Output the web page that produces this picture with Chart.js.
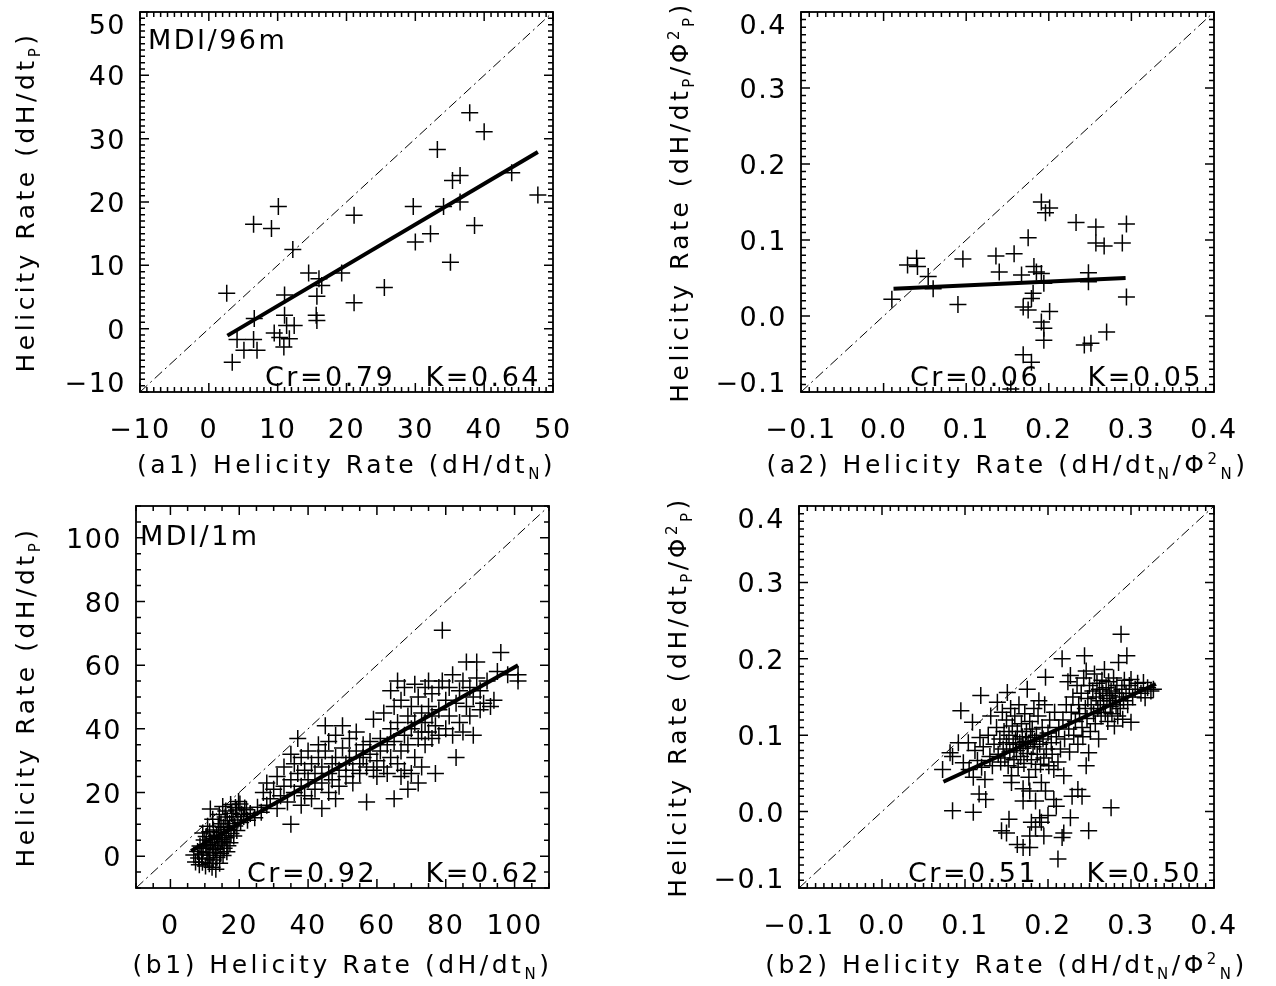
<!DOCTYPE html>
<html>
<head>
<meta charset="utf-8">
<title>Helicity rate comparison</title>
<script src="https://cdn.jsdelivr.net/npm/chart.js@4.4.1/dist/chart.umd.min.js"></script>
<style>
  html, body { margin: 0; padding: 0; background: #fff; }
  body { position: relative; width: 1276px; height: 986px; overflow: hidden; }
  canvas { position: absolute; }
</style>
</head>
<body>
<canvas id="a1"></canvas>
<canvas id="a2"></canvas>
<canvas id="b1"></canvas>
<canvas id="b2"></canvas>
<script>
// ---- data ----
const a1Points = [[2.6,5.6],[3.4,-5.3],[4.1,-1.7],[5.1,-3.4],[6.5,-1.7],[7.0,-3.4],[6.6,1.6],[6.5,16.5],
  [9.1,15.8],[10.1,19.3],[9.5,-0.7],[10.3,-1.4],[10.9,-2.9],[11.7,-1.6],[11.0,2.1],[11.0,5.3],[11.3,0.5],
  [12.4,0.5],[12.2,12.5],[14.5,8.8],[15.6,2.1],[15.7,1.3],[15.7,5.1],[16.0,7.9],[16.4,6.8],[19.3,8.8],
  [21.1,17.9],[21.1,4.1],[25.5,6.5],[29.7,19.3],[30.0,13.7],[32.2,15.0],[33.2,28.3],[34.1,19.3],[35.1,10.5],
  [35.4,23.4],[36.5,24.2],[36.5,20.0],[37.9,34.1],[38.6,16.3],[40.0,31.1],[44.0,24.6],[47.8,21.1]];
const a1Fit = [[2.7,-1.1],[47.8,27.9]];

const a2Points = [[0.010,0.022],[0.029,0.067],[0.040,0.076],[0.041,0.065],[0.054,0.052],[0.060,0.036],
  [0.090,0.015],[0.096,0.075],[0.136,0.079],[0.140,0.058],[0.158,0.082],[0.167,0.054],[0.175,0.103],
  [0.169,0.012],[0.175,0.008],[0.179,0.023],[0.181,0.030],[0.182,0.065],[0.185,0.058],[0.191,0.056],
  [0.194,0.043],[0.191,0.150],[0.196,0.136],[0.201,0.142],[0.191,-0.008],[0.194,-0.016],[0.194,-0.032],
  [0.201,0.006],[0.169,-0.051],[0.179,-0.061],[0.154,-0.096],[0.233,0.123],[0.248,0.057],[0.248,0.045],
  [0.257,0.117],[0.257,0.096],[0.267,0.092],[0.289,0.096],[0.294,0.121],[0.294,0.025],[0.270,-0.021],
  [0.243,-0.038],[0.251,-0.036]];
const a2Fit = [[0.012,0.036],[0.293,0.050]];

const b1Points = [[6.8,0.4],[7.3,-1.8],[7.9,1.5],[8.2,-0.6],[8.6,3.2],[8.4,-2.7],[9.1,0.7],[9.5,2.4],[9.3,-1.9],
  [9.8,5.1],[9.4,7.3],[10.2,-3.1],[10.6,1.2],[10.3,3.6],[10.9,-0.9],[10.4,6.2],[10.8,9.4],[11.3,-2.4],[11.5,0.3],
  [11.2,2.6],[11.7,4.4],[11.4,7.7],[11.6,14.8],[12.1,-3.5],[12.4,-1.2],[12.6,1.1],[12.2,3.3],[12.8,5.6],[12.5,8.2],
  [12.3,11.6],[13.2,-4.1],[13.5,-0.4],[13.1,2.2],[13.7,4.1],[13.4,6.6],[13.9,9.3],[14.3,-2.2],[14.6,0.8],[14.1,3.5],
  [14.8,5.3],[14.4,7.4],[14.7,10.2],[14.2,13.1],[15.3,0.2],[15.6,2.5],[15.1,4.6],[15.8,6.4],[15.4,9.1],[15.9,12.3],
  [15.2,15.6],[16.4,1.4],[16.7,3.3],[16.2,5.8],[16.9,8.4],[16.5,11.2],[16.1,14.2],[17.3,4.2],[17.6,7.1],[17.2,10.3],
  [17.8,13.4],[17.5,16.2],[18.4,6.3],[18.7,9.5],[18.2,12.4],[18.9,15.3],[19.3,8.1],[19.6,11.4],[19.2,14.5],
  [19.8,17.2],[20.4,10.6],[20.7,13.2],[20.2,16.4],[21.3,12.5],[21.6,15.1],[22.4,11.3],[22.1,14.6],[23.2,13.4],
  [24.5,12.1],[25.3,15.4],[26.4,13.8],
  [27,20],[28,16],[28,23],[29,18],[30,21],[31,15],[31,25],[32,19],[33,22],[33,28],[34,17],[35,10],[35,24],[35,32],
  [36,20],[36,29],[37,26],[37,37],[38,16],[38,22],[38,31],[39,19],[39,27],[40,24],[40,33],[41,18],[41,29],[42,21],
  [42,26],[43,31],[43,35],[44,15],[44,23],[44,28],[45,33],[45,41],[46,20],[46,26],[46,36],[47,29],[47,24],[48,18],
  [48,31],[48,38],[49,27],[49,22],[50,34],[50,41],[51,29],[51,25],[52,31],[52,37],[53,27],[53,23],[54,33],[54,39],
  [55,29],[55,26],[56,35],[56,31],[57,17],[57,28],[58,32],[58,36],[59,27],[59,43],[60,30],[60,25],
  [61,37],[61,33],[62,28],[62,45],[63,35],[63,26],[64,40],[64,31],[64,52],[65,18],[65,47],[65,36],[66,29],[66,55],
  [66,42],[67,33],[67,25],[67,49],[68,38],[68,53],[68,27],[69,44],[69,21],[69,35],[70,40],[70,47],[70,26],[71,54],
  [71,31],[71,42],[72,37],[72,50],[72,23],[73,45],[73,39],[73,28],[74,53],[74,42],[74,35],[75,47],[75,39],[75,55],
  [76,44],[76,37],[76,51],[77,26],[77,41],[78,53],[78,46],[78,38],[79,71],[79,55],[80,49],[80,40],[81,44],[81,53],
  [82,38],[82,57],[83,48],[83,31],[84,52],[84,42],[85,55],[85,39],[86,61],[86,47],[87,53],[87,44],[88,38],[88,50],
  [89,61],[89,56],[90,46],[90,52],[91,48],[92,55],[93,47],[94,49],[95,58],[96,64],[98,57],[101,57],[101,55]];
const b1Fit = [[6,1.6],[101,60]];

const b2Points = [[0.073,0.055],[0.082,0.077],[0.085,0.072],[0.092,0.090],[0.095,0.132],[0.098,0.064],
  [0.104,0.090],[0.105,0.055],[0.109,0.117],[0.110,0.045],[0.112,0.080],[0.115,0.067],[0.118,0.097],
  [0.119,0.152],[0.120,0.058],[0.122,0.085],[0.124,0.042],[0.125,0.016],[0.117,0.023],[0.085,0.001],
  [0.110,-0.001],[0.128,0.100],[0.130,0.072],[0.131,0.125],[0.133,0.060],[0.135,0.088],
  [0.138,0.110],[0.139,0.143],[0.140,0.075],[0.142,0.095],[0.143,0.065],[0.145,0.130],[0.146,0.082],
  [0.147,0.105],[0.148,0.070],[0.150,0.120],[0.150,0.090],[0.151,0.156],[0.152,0.060],[0.153,0.100],
  [0.154,0.078],[0.155,0.135],[0.156,0.047],[0.156,0.038],[0.157,0.112],[0.158,0.088],[0.159,0.068],
  [0.160,0.125],[0.161,0.095],[0.162,0.080],[0.163,0.105],[0.164,0.058],[0.165,0.140],[0.166,0.090],
  [0.167,0.072],[0.168,0.115],[0.169,0.098],[0.170,0.083],[0.170,0.014],[0.171,0.063],[0.172,0.128],
  [0.173,0.092],[0.174,0.105],[0.175,0.160],[0.175,0.076],[0.176,0.088],[0.177,0.045],[0.178,0.027],
  [0.178,0.118],[0.179,0.097],[0.180,0.068],[0.181,0.108],[0.182,0.085],[0.183,0.135],[0.184,0.092],
  [0.185,0.055],[0.185,0.014],[0.186,0.100],[0.187,0.075],[0.188,0.125],[0.189,0.145],[0.190,0.088],
  [0.191,0.062],[0.192,0.038],[0.193,0.110],[0.194,0.095],[0.195,0.070],[0.196,0.140],[0.197,0.027],
  [0.197,0.176],[0.198,0.082],[0.200,0.103],[0.201,0.060],[0.202,0.120],[0.204,0.090],[0.205,0.075],
  [0.207,0.016],[0.207,0.055],[0.208,0.130],[0.210,0.007],[0.210,0.098],[0.212,0.065],[0.213,0.110],
  [0.215,0.082],
  [0.144,-0.025],[0.150,-0.028],[0.153,-0.010],[0.163,-0.043],[0.170,-0.047],[0.178,-0.047],[0.178,-0.032],
  [0.180,-0.014],[0.190,-0.008],[0.192,-0.014],[0.195,-0.032],[0.185,-0.020],[0.217,-0.034],[0.219,-0.028],
  [0.212,-0.062],[0.227,-0.008],[0.249,-0.025],[0.229,0.020],[0.236,0.029],[0.241,0.020],[0.219,0.047],
  [0.276,0.005],[0.170,0.030],[0.200,-0.005],
  [0.217,0.200],[0.218,0.120],[0.220,0.095],[0.222,0.140],[0.224,0.170],[0.225,0.108],[0.226,0.078],
  [0.227,0.178],[0.228,0.130],[0.230,0.150],[0.231,0.100],[0.233,0.118],[0.235,0.165],[0.236,0.088],
  [0.237,0.140],[0.238,0.128],[0.240,0.155],[0.241,0.110],[0.242,0.098],[0.243,0.175],[0.244,0.204],
  [0.245,0.135],[0.246,0.060],[0.246,0.184],[0.247,0.122],[0.248,0.148],[0.249,0.077],[0.250,0.165],
  [0.251,0.105],[0.252,0.140],[0.254,0.158],[0.255,0.128],[0.256,0.180],[0.257,0.115],[0.258,0.150],
  [0.259,0.168],[0.260,0.135],[0.261,0.095],[0.262,0.160],[0.263,0.145],[0.264,0.125],[0.265,0.172],
  [0.266,0.155],[0.267,0.140],[0.268,0.186],[0.269,0.130],[0.270,0.162],[0.271,0.148],[0.272,0.118],
  [0.273,0.170],[0.274,0.152],[0.275,0.138],[0.276,0.158],[0.277,0.128],[0.278,0.145],[0.279,0.175],
  [0.280,0.112],[0.281,0.155],[0.282,0.140],[0.283,0.165],[0.284,0.125],[0.285,0.195],[0.286,0.150],
  [0.287,0.135],[0.288,0.232],[0.289,0.160],[0.290,0.121],[0.291,0.145],[0.292,0.172],[0.294,0.155],
  [0.295,0.204],[0.296,0.140],[0.298,0.165],[0.300,0.173],[0.300,0.117],[0.302,0.150],[0.305,0.160],
  [0.308,0.168],[0.312,0.155],[0.315,0.169],[0.317,0.149],[0.320,0.162],[0.324,0.158],[0.327,0.160]];
const b2Fit = [[0.074,0.039],[0.330,0.167]];

// tick labels
const a1Ticks = [-10, 0, 10, 20, 30, 40, 50];
const b1Ticks = [0, 20, 40, 60, 80, 100];
const ratioTicks = [-0.1, 0.0, 0.1, 0.2, 0.3, 0.4];

// statistics text
const a1Stats = ['Cr=0.79', 'K=0.64'];
const a2Stats = ['Cr=0.06', 'K=0.05'];
const b1Stats = ['Cr=0.92', 'K=0.62'];
const b2Stats = ['Cr=0.51', 'K=0.50'];

const FONT = '"DejaVu Sans", "Liberation Sans", sans-serif';
const PAD = { left: 150, top: 30, right: 40, bottom: 100 };

// title pieces: [text, 0 normal | 1 subscript | 2 superscript]
const titleN = (tag) => [[tag + ' Helicity Rate (dH/dt', 0], ['N', 1], [')', 0]];
const titleNPhi = (tag) => [[tag + ' Helicity Rate (dH/dt', 0], ['N', 1], ['/\u03A6', 0], ['2', 2], ['N', 1], [')', 0]];
const titleP = [['Helicity Rate (dH/dt', 0], ['P', 1], [')', 0]];
const titlePPhi = [['Helicity Rate (dH/dt', 0], ['P', 1], ['/\u03A6', 0], ['2', 2], ['P', 1], [')', 0]];

const panels = [
  { id: 'a1', area: [140, 12, 553, 392], range: [-10, 50], ticks: a1Ticks, minor: 1, dec: 0,
    points: a1Points, fit: a1Fit, stats: a1Stats, tag: 'MDI/96m', tagPos: [8, 37],
    crDx: 125, kDx: 12, xTitle: titleN('(a1)'), yTitle: titleP, yTitleDx: 106, xTitleDy: 81 },
  { id: 'a2', area: [801, 12, 1214, 392], range: [-0.1, 0.4], ticks: ratioTicks, minor: 0.01, dec: 1,
    points: a2Points, fit: a2Fit, stats: a2Stats, tag: null,
    crDx: 109, kDx: 11, xTitle: titleNPhi('(a2)'), yTitle: titlePPhi, yTitleDx: 113, xTitleDy: 81 },
  { id: 'b1', area: [136, 506, 549, 888], range: [-10, 110], ticks: b1Ticks, minor: 5, dec: 0,
    points: b1Points, fit: b1Fit, stats: b1Stats, tag: 'MDI/1m', tagPos: [4, 39],
    crDx: 111, kDx: 8, xTitle: titleN('(b1)'), yTitle: titleP, yTitleDx: 102, xTitleDy: 85 },
  { id: 'b2', area: [799, 506, 1214, 888], range: [-0.1, 0.4], ticks: ratioTicks, minor: 0.01, dec: 1,
    points: b2Points, fit: b2Fit, stats: b2Stats, tag: null,
    crDx: 109, kDx: 12, xTitle: titleNPhi('(b2)'), yTitle: titlePPhi, yTitleDx: 113, xTitleDy: 85 }
];

function fmt(v, dec) {
  let s = v.toFixed(dec);
  if (parseFloat(s) === 0) s = (0).toFixed(dec);
  return s.replace('-', '\u2212');
}

function drawRich(ctx, parts, x, y, center) {
  const fonts = ['25px ' + FONT, '15px ' + FONT, '15px ' + FONT];
  const shift = [0, 6, -9];
  let w = 0;
  parts.forEach(p => { ctx.font = fonts[p[1]]; w += ctx.measureText(p[0]).width; });
  let cx = center ? x - w / 2 : x;
  parts.forEach(p => {
    ctx.font = fonts[p[1]];
    ctx.fillText(p[0], cx, y + shift[p[1]]);
    cx += ctx.measureText(p[0]).width;
  });
}

function framePlugin(p) {
  return {
    id: 'frame',
    afterDraw(chart) {
      const ctx = chart.ctx, a = chart.chartArea;
      const xs = chart.scales.x, ys = chart.scales.y;
      const isMajor = v => p.ticks.some(t => Math.abs(t - v) < p.minor * 0.01);
      ctx.save();
      ctx.setLineDash([]);
      ctx.globalAlpha = 1;
      ctx.strokeStyle = '#000';
      ctx.fillStyle = '#000';
      ctx.textAlign = 'left';
      ctx.textBaseline = 'alphabetic';

      // inward ticks on all four sides
      ctx.lineWidth = 1.5;
      ctx.lineCap = 'butt';
      const k0 = Math.ceil(p.range[0] / p.minor - 1e-6), k1 = Math.floor(p.range[1] / p.minor + 1e-6);
      for (let k = k0; k <= k1; k++) {
        const v = k * p.minor;
        const len = isMajor(v) ? 9 : 5;
        const px = xs.getPixelForValue(v);
        const py = ys.getPixelForValue(v);
        ctx.beginPath();
        ctx.moveTo(px, a.bottom); ctx.lineTo(px, a.bottom - len);
        ctx.moveTo(px, a.top); ctx.lineTo(px, a.top + len);
        ctx.moveTo(a.left, py); ctx.lineTo(a.left + len, py);
        ctx.moveTo(a.right, py); ctx.lineTo(a.right - len, py);
        ctx.stroke();
      }
      ctx.lineWidth = 1.8;
      ctx.strokeRect(a.left, a.top, a.right - a.left, a.bottom - a.top);

      // tick labels
      ctx.font = '27px ' + FONT;
      ctx.letterSpacing = '1.5px';
      p.ticks.forEach(v => {
        const s = fmt(v, p.dec);
        const w = ctx.measureText(s).width;
        ctx.fillText(s, xs.getPixelForValue(v) - w / 2, a.bottom + 46);
        let cy = ys.getPixelForValue(v);
        cy = Math.min(Math.max(cy, a.top + 12), a.bottom - 10);
        ctx.fillText(s, a.left - 14 - w, cy + 10);
      });

      // annotations inside the box
      ctx.letterSpacing = '2.5px';
      if (p.tag) ctx.fillText(p.tag, a.left + p.tagPos[0], a.top + p.tagPos[1]);
      ctx.fillText(p.stats[0], a.left + p.crDx, a.bottom - 6);
      const kw = ctx.measureText(p.stats[1]).width;
      ctx.fillText(p.stats[1], a.right - p.kDx - kw, a.bottom - 6);

      // axis titles
      ctx.letterSpacing = '3.5px';
      drawRich(ctx, p.xTitle, (a.left + a.right) / 2, a.bottom + p.xTitleDy, true);
      ctx.save();
      ctx.translate(a.left - p.yTitleDx, (a.top + a.bottom) / 2);
      ctx.rotate(-Math.PI / 2);
      drawRich(ctx, p.yTitle, 0, 0, true);
      ctx.restore();

      ctx.restore();
    }
  };
}

panels.forEach(p => {
  const [l, t, r, b] = p.area;
  const cv = document.getElementById(p.id);
  const w = r - l + PAD.left + PAD.right, h = b - t + PAD.top + PAD.bottom;
  cv.width = w; cv.height = h;
  cv.style.width = w + 'px'; cv.style.height = h + 'px';
  cv.style.left = (l - PAD.left) + 'px';
  cv.style.top = (t - PAD.top) + 'px';

  const lo = p.range[0], hi = p.range[1];
  new Chart(cv, {
    type: 'scatter',
    data: {
      datasets: [
        {
          // fitted line
          data: p.fit.map(q => ({ x: q[0], y: q[1] })),
          showLine: true,
          borderColor: '#000',
          borderWidth: 4,
          pointRadius: 0,
          clip: 0
        },
        {
          data: p.points.map(q => ({ x: q[0], y: q[1] })),
          pointStyle: 'cross',
          pointRadius: 8.5,
          pointBorderWidth: 1.5,
          pointBorderColor: '#000',
          backgroundColor: '#000',
          clip: 0
        },
        {
          // one-to-one line
          data: [{ x: lo, y: lo }, { x: hi, y: hi }],
          showLine: true,
          borderColor: '#000',
          borderWidth: 1,
          borderDash: [10, 4, 2, 4],
          pointRadius: 0,
          clip: 0
        }
      ]
    },
    options: {
      responsive: false,
      animation: false,
      devicePixelRatio: 1,
      events: [],
      layout: { padding: PAD },
      plugins: {
        legend: { display: false },
        tooltip: { enabled: false }
      },
      scales: {
        x: { type: 'linear', min: lo, max: hi, display: false },
        y: { type: 'linear', min: lo, max: hi, display: false }
      }
    },
    plugins: [framePlugin(p)]
  });
});
</script>
</body>
</html>
